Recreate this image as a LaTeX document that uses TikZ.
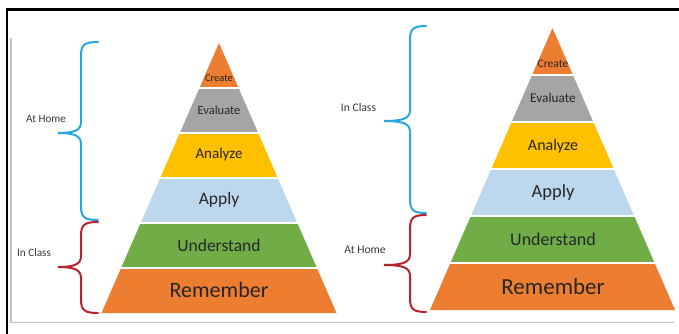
\documentclass[tikz,border=0pt]{standalone}
\usepackage{fontspec}
\setmainfont{Carlito}
\definecolor{cOrange}{HTML}{ED7D31}
\definecolor{cGray}{HTML}{A5A5A5}
\definecolor{cYellow}{HTML}{FFC000}
\definecolor{cBlue}{HTML}{BDD7EE}
\definecolor{cGreen}{HTML}{70AD47}
\definecolor{braceBlue}{HTML}{29A6DF}
\definecolor{braceRed}{HTML}{B5232F}
\definecolor{txt}{HTML}{262626}
\definecolor{side}{HTML}{3A3A3A}
\definecolor{frameGray}{HTML}{C4C4C4}
\newcommand{\fs}[1]{\fontsize{#1}{#1}\selectfont}
\newcommand{\mybrace}[7]{% color, endx, spinex, tipx, topy, tipy, boty
  \draw[#1, line width=2pt, line cap=round]
    (#2,#5) .. controls (#3+3,#5) and (#3,#5+3) .. (#3,#5+14)
    -- (#3,#6-11) .. controls (#3,#6-3) and (#3-6,#6) .. (#4,#6)
    .. controls (#3-6,#6) and (#3,#6+3) .. (#3,#6+11)
    -- (#3,#7-14) .. controls (#3,#7-3) and (#3+3,#7) .. (#2,#7);}
\tikzset{
  lbl/.style={text=txt, inner sep=0pt, anchor=center},
  sidelbl/.style={text=side, inner sep=0pt, anchor=center},
  sep/.style={white, line width=1.3pt}
}
\begin{document}
\begin{tikzpicture}[x=1pt,y=-1pt]
\useasboundingbox (0,0) rectangle (679,334);
\fill[white] (0,0) rectangle (679,334);
% frame
\draw[black, line width=2.5pt] (6,9.5) -- (679,9.5);
\draw[black, line width=2.5pt] (7,8.3) -- (7,334);
\draw[frameGray, line width=1.5pt] (10.8,38) -- (10.8,322.5) -- (674,322.5);

% left pyramid
\begin{scope}[shift={(219,43)}]
  \def\w{19.583}\def\h{45}
  \foreach \i/\c in {0/cOrange,1/cGray,2/cYellow,3/cBlue,4/cGreen,5/cOrange}{
    \fill[\c] ({-\i*\w},{\i*\h}) -- ({\i*\w},{\i*\h}) -- ({(\i+1)*\w},{(\i+1)*\h}) -- ({-(\i+1)*\w},{(\i+1)*\h}) -- cycle;
  }
  \foreach \i in {1,...,5}{
    \draw[sep] ({-\i*\w-2},{\i*\h}) -- ({\i*\w+2},{\i*\h});
  }
\end{scope}
\node[lbl] (lcr) at (219,78) {\fs{10.5}Create};
\node[lbl] (lev) at (219,110) {\fs{12.5}Evaluate};
\node[lbl] (lan) at (219,155) {\fs{15}Analyze};
\node[lbl] (lap) at (219,200) {\fs{17.5}Apply};
\node[lbl] (lun) at (219,245) {\fs{17.5}Understand};
\node[lbl] (lre) at (219,290) {\fs{22}Remember};

% right pyramid
\begin{scope}[shift={(552.5,28)}]
  \def\w{20.417}\def\h{47}
  \foreach \i/\c in {0/cOrange,1/cGray,2/cYellow,3/cBlue,4/cGreen,5/cOrange}{
    \fill[\c] ({-\i*\w},{\i*\h}) -- ({\i*\w},{\i*\h}) -- ({(\i+1)*\w},{(\i+1)*\h}) -- ({-(\i+1)*\w},{(\i+1)*\h}) -- cycle;
  }
  \foreach \i in {1,...,5}{
    \draw[sep] ({-\i*\w-2},{\i*\h}) -- ({\i*\w+2},{\i*\h});
  }
\end{scope}
\node[lbl] (rcr) at (553,64) {\fs{11.5}Create};
\node[lbl] (rev) at (553,98) {\fs{13.3}Evaluate};
\node[lbl] (ran) at (553,146) {\fs{16}Analyze};
\node[lbl] (rap) at (553,193) {\fs{18.5}Apply};
\node[lbl] (run) at (553,239) {\fs{18}Understand};
\node[lbl] (rre) at (553,287) {\fs{23}Remember};

% braces left
\mybrace{braceBlue}{98}{81}{58}{42}{133}{220}
\mybrace{braceRed}{98}{81}{58}{222}{267}{313}
\node[sidelbl] (lhome) at (46,119) {\fs{11.2}At Home};
\node[sidelbl] (lclass) at (34,253) {\fs{11.2}In Class};

% braces right
\mybrace{braceBlue}{426}{410}{384}{26}{121}{213}
\mybrace{braceRed}{426}{410}{384}{215}{265}{312}
\node[sidelbl] (rclass) at (358.5,108) {\fs{11.6}In Class};
\node[sidelbl] (rhome) at (365,250) {\fs{11.6}At Home};
\end{tikzpicture}
\end{document}
